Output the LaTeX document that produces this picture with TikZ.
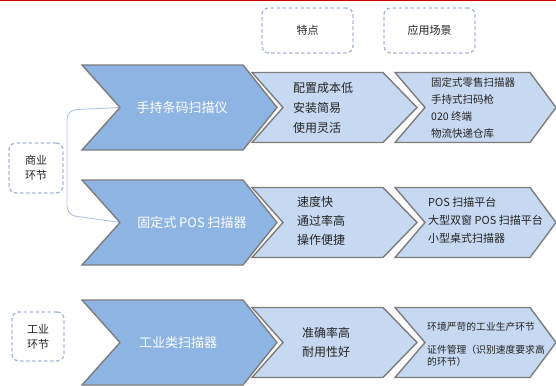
\documentclass[tikz,border=0pt]{standalone}
\usepackage{fontspec}
\setmainfont{Noto Sans CJK SC}
\definecolor{chevA}{RGB}{141,180,226}
\definecolor{chevB}{RGB}{198,217,241}
\definecolor{edgec}{RGB}{125,125,125}
\definecolor{dashc}{RGB}{170,186,212}
\definecolor{brkc}{RGB}{175,198,226}
\definecolor{txtc}{RGB}{35,35,35}
\newcommand\mychev[7]{%
  \draw[#1] (#2,#6-#7) -- (#4,#6-#7) -- (#5,#6) -- (#4,#6+#7) -- (#2,#6+#7) -- (#3,#6) -- cycle;}
\begin{document}
\begin{tikzpicture}[x=1pt,y=-1pt,
  chevone/.style={fill=chevA,draw=edgec,line width=1.4pt,line join=miter},
  chevtwo/.style={fill=chevB,draw=edgec,line width=1.4pt,line join=miter},
  dbox/.style={draw=dashc,dash pattern=on 3.5pt off 2.5pt,line width=1.4pt,rounded corners=7pt,
    text=txtc,font=\fontsize{11}{15}\selectfont,align=center,inner sep=0pt},
  maintxt/.style={text=white,font=\fontsize{13}{16}\selectfont,inner sep=0pt},
  midtxt/.style={text=txtc,anchor=west,align=left,inner sep=0pt},
  righttxt/.style={text=txtc,anchor=west,align=left,inner sep=0pt}]
\useasboundingbox (0,0) rectangle (556,385);
\fill[red!80!black] (0,0) rectangle (556,1.5);

% header boxes
\node[dbox,minimum width=91pt,minimum height=45pt] (hfeat) at (307.5,30.5) {特点};
\node[dbox,minimum width=91pt,minimum height=45pt] (happ) at (429.5,30.5) {应用场景};

% left boxes
\node[dbox,minimum width=54pt,minimum height=50pt] (bcom) at (36,168) {商业\\环节};
\node[dbox,minimum width=52pt,minimum height=49pt] (bind) at (38,336.5) {工业\\环节};

% notch coordinates
\coordinate (n1) at (120,107.5);
\coordinate (n2) at (120,222.5);
\draw[brkc,line width=0.9pt,rounded corners=9pt] (n1) -- (67,110) -- (67,215) -- (n2);

% row 1
\mychev{chevone}{82}{120}{243}{277}{107.5}{42.5}
\mychev{chevtwo}{252}{283}{383}{417}{107.5}{35}
\mychev{chevtwo}{395}{425}{530}{556}{107.5}{35}
\node[maintxt] (c11) at (182,107.5) {手持条码扫描仪};
\node[midtxt,font=\fontsize{12}{20}\selectfont] (c12) at (293,108) {配置成本低\\安装简易\\使用灵活};
\node[righttxt,font=\fontsize{10.5}{16.7}\selectfont] (c13) at (431,108) {固定式零售扫描器\\手持式扫码枪\\020 终端\\物流快递仓库};

% row 2
\mychev{chevone}{82}{120}{243}{277}{222.5}{42.5}
\mychev{chevtwo}{252}{283}{383}{417}{222.5}{35}
\mychev{chevtwo}{395}{425}{530}{556}{222.5}{35}
\node[maintxt] (c21) at (192,223) {固定式 POS 扫描器};
\node[midtxt,font=\fontsize{12}{19}\selectfont] (c22) at (297,221) {速度快\\通过率高\\操作便捷};
\node[righttxt,font=\fontsize{11}{18}\selectfont] (c23) at (428,220) {POS 扫描平台\\大型双窗 POS 扫描平台\\小型桌式扫描器};

% row 3
\mychev{chevone}{82}{120}{243}{277}{342.5}{42.5}
\mychev{chevtwo}{252}{283}{383}{417}{342.5}{35}
\mychev{chevtwo}{395}{425}{530}{556}{342.5}{35}
\node[maintxt] (c31) at (178,342.5) {工业类扫描器};
\node[midtxt,font=\fontsize{12}{19}\selectfont] (c32) at (302,342.5) {准确率高\\耐用性好};
\node[righttxt,font=\fontsize{9.8}{12}\selectfont] (c33a) at (427,327) {环境严苛的工业生产环节};
\node[righttxt,font=\fontsize{9.8}{12}\selectfont] (c33b) at (427,356) {证件管理（识别速度要求高\\的环节）};
\end{tikzpicture}
\end{document}
